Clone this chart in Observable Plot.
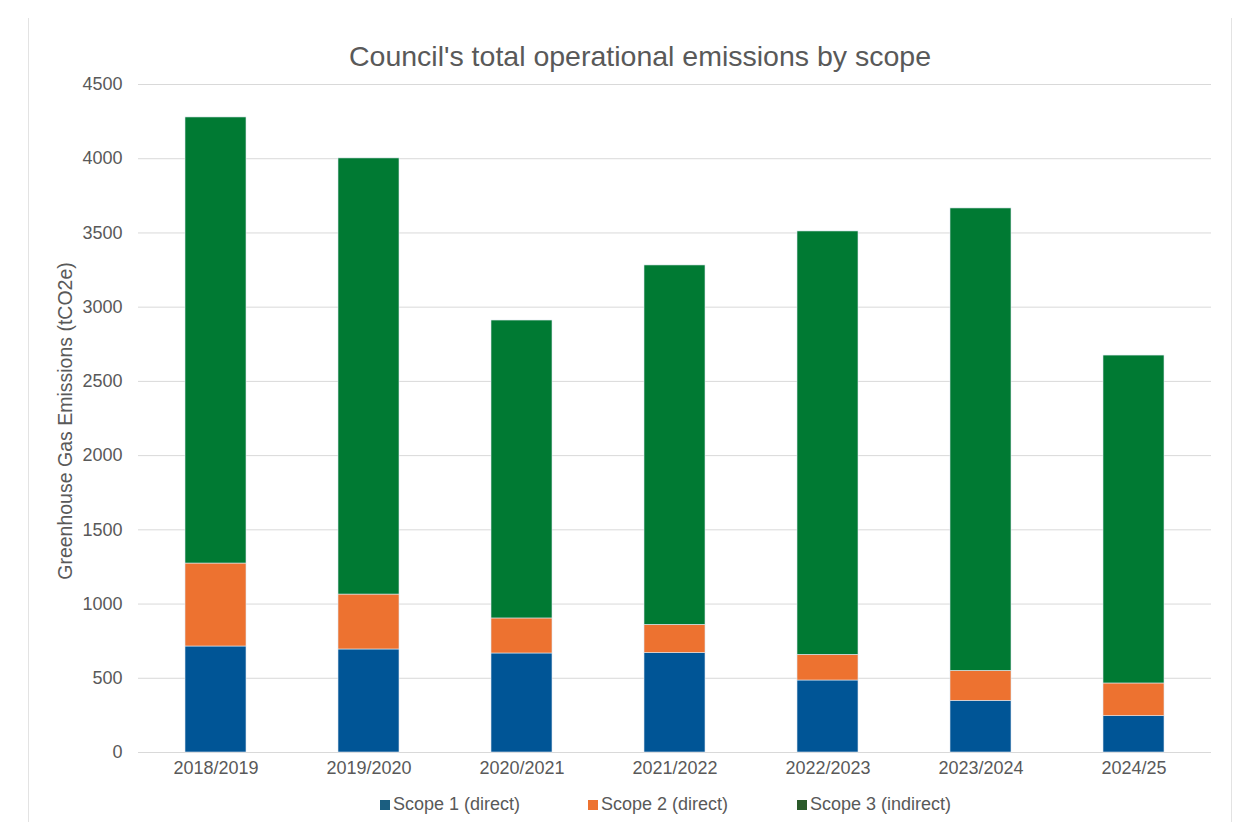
<!DOCTYPE html>
<html>
<head>
<meta charset="utf-8">
<script src="https://cdn.jsdelivr.net/npm/d3@7"></script>
<script src="https://cdn.jsdelivr.net/npm/@observablehq/plot@0.6"></script>
<style>
  html, body { margin: 0; padding: 0; background: #fff; }
  #wrap { position: relative; width: 1237px; height: 822px; font-family: "Liberation Sans", Arial, sans-serif; color: #595959; overflow: hidden; }
  #frame { position: absolute; left: 28px; top: 18px; width: 1202px; height: 820px; border-left: 1px solid #e3e3e3; border-right: 1px solid #e3e3e3; }
  #title { position: absolute; left: 0; width: 1280px; top: 40px; text-align: center; font-size: 28.5px; color: #595959; }
  #ylabel { position: absolute; left: 65px; top: 421px; transform: translate(-50%, -50%) rotate(-90deg); white-space: nowrap; font-size: 19.5px; color: #595959; }
  #legend { position: absolute; top: 794px; left: 0; width: 1237px; font-size: 18px; color: #595959; }
  .item { position: absolute; display: flex; align-items: center; white-space: nowrap; }
  .sw { width: 10px; height: 10px; margin-right: 3px; }
  #chart { position: absolute; left: 0; top: 0; }
</style>
</head>
<body>
<div id="wrap">
  <div id="frame"></div>
  <div id="chart"></div>
  <div id="title">Council's total operational emissions by scope</div>
  <div id="ylabel">Greenhouse Gas Emissions (tCO2e)</div>
  <div id="legend"></div>
</div>
<script>
const years = ["2018/2019", "2019/2020", "2020/2021", "2021/2022", "2022/2023", "2023/2024", "2024/25"];
const scopes = ["Scope 1 (direct)", "Scope 2 (direct)", "Scope 3 (indirect)"];
const scope1 = [714, 694, 667, 670, 485, 348, 245];
const scope2 = [559, 370, 236, 190, 173, 202, 220];
const scope3 = [3005, 2938, 2007, 2421, 2852, 3115, 2209];
const yTicks = [0, 500, 1000, 1500, 2000, 2500, 3000, 3500, 4000, 4500];
const barColors = ["#005596", "#ED7230", "#007A33"];
const legendColors = ["#1B5E80", "#ED7230", "#2A5A2A"];

const series = [scope1, scope2, scope3];
const data = [];
years.forEach((yr, i) => {
  scopes.forEach((s, j) => data.push({year: yr, scope: s, value: series[j][i]}));
});

const chart = Plot.plot({
  width: 1237,
  height: 822,
  marginLeft: 138,
  marginRight: 26,
  marginTop: 84,
  marginBottom: 70,
  style: {fontFamily: "'Liberation Sans', Arial, sans-serif", fontSize: "18px", color: "#595959", background: "transparent", overflow: "visible"},
  x: {domain: years, paddingInner: 0.6, paddingOuter: 0.3, label: null},
  y: {domain: [0, 4500], label: null},
  color: {domain: scopes, range: barColors},
  marks: [
    Plot.gridY(yTicks, {stroke: "#d9d9d9", strokeOpacity: 1, strokeWidth: 1}),
    Plot.barY(data, {x: "year", y: "value", fill: "scope", stroke: "#dfe8f0", strokeWidth: 0.6}),
    Plot.axisY({ticks: yTicks, tickSize: 0, tickPadding: 16, tickFormat: d => String(d), label: null}),
    Plot.axisX({tickSize: 0, tickPadding: 9, label: null})
  ]
});
document.getElementById("chart").appendChild(chart);

const lg = document.getElementById("legend");
const lefts = [380, 588, 797];
scopes.forEach((s, j) => {
  const it = document.createElement("div");
  it.className = "item";
  it.style.left = lefts[j] + "px";
  const sw = document.createElement("div");
  sw.className = "sw";
  sw.style.background = legendColors[j];
  const tx = document.createElement("span");
  tx.textContent = s;
  it.appendChild(sw);
  it.appendChild(tx);
  lg.appendChild(it);
});
</script>
</body>
</html>
